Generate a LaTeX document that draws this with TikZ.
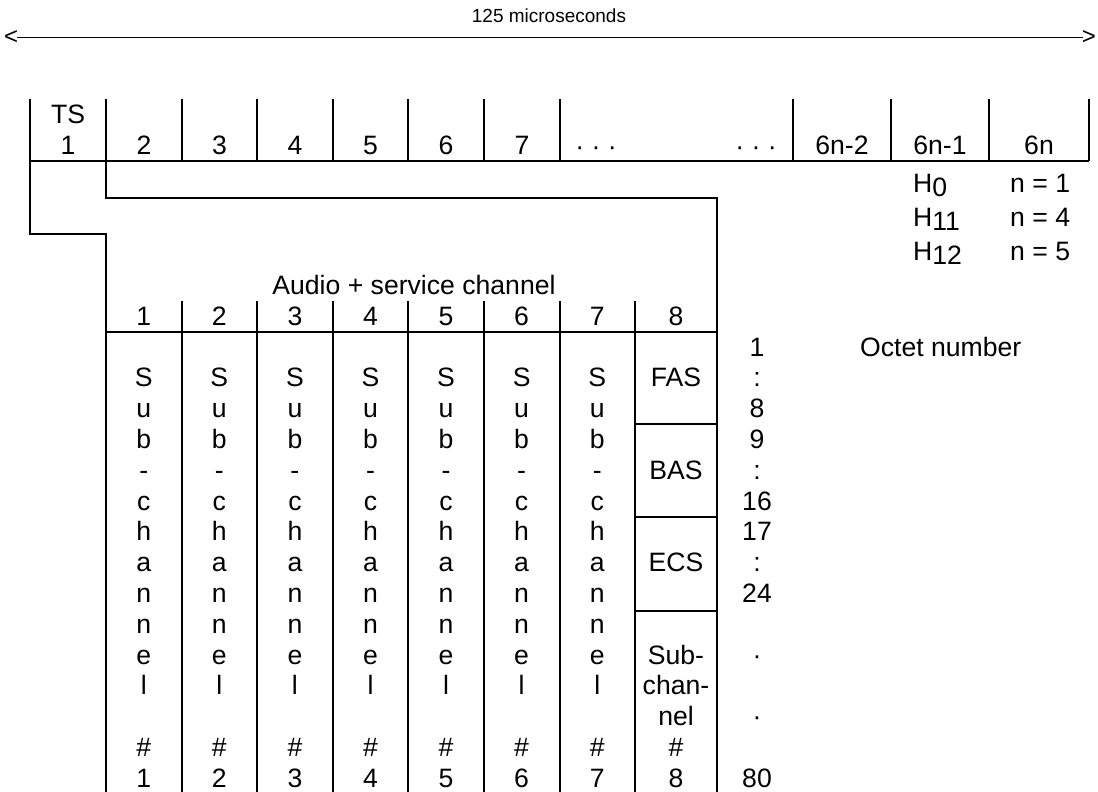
\documentclass[tikz,border=0pt]{standalone}
\usepackage{fontspec}
\setmainfont{Liberation Sans}
\begin{document}
\begin{tikzpicture}[x=1pt,y=-1pt,
  rule/.style={line width=1.8pt},
  thinrule/.style={line width=1pt},
  txt/.style={inner sep=0pt,anchor=base,font=\fontsize{26.6}{30}\selectfont},
  small/.style={inner sep=0pt,font=\fontsize{19}{22}\selectfont},
  tip/.style={inner sep=0pt,font=\fontsize{24}{26}\selectfont}]
\useasboundingbox (0,0) rectangle (1098,792);

% title and arrow
\node[small] (title) at (549,16) {125 microseconds};
\node[tip,anchor=west] (lt) at (4,38) {<};
\node[tip,anchor=east] (gt) at (1096,38) {>};
\draw[thinrule] ([xshift=-1.5pt]lt.east) -- ([xshift=1.5pt]gt.west);

% frame lines
\draw[rule] (30,99) -- (30,234) -- (106,234) -- (106,792);
\draw[rule] (106,99) -- (106,197.7) -- (717,197.7) -- (717,792);
\draw[rule] (30,161) -- (1089,161);
\foreach \x in {182,257,333,408,484,560,793,891,989,1089}
  \draw[rule] (\x,99) -- (\x,161);

% sub-table lines
\draw[rule] (106,332) -- (717,332);
\foreach \x in {182,257,333,408,484,560,635}
  \draw[rule] (\x,301) -- (\x,792);
\foreach \y in {424,517,611}
  \draw[rule] (635,\y) -- (717,\y);

% top row labels
\node[txt] (ts) at (68,123) {TS};
\node[txt] (t1) at (68,154) {1};
\foreach \x [count=\i from 2] in {144,219.5,295,370.5,446,522}
  \node[txt] (t\i) at (\x,154) {\i};
\node[txt] (dots1) at (596,155) {· · ·};
\node[txt] (dots2) at (756,155) {· · ·};
\node[txt] (t6n2) at (842,154) {6n-2};
\node[txt] (t6n1) at (940,154) {6n-1};
\node[txt] (t6n) at (1039,154) {6n};

% H rates
\node[txt,anchor=base west] (h0) at (913,192) {H\raisebox{-4.5pt}{0}};
\node[txt,anchor=base west] (h11) at (913,226) {H\raisebox{-4.5pt}{11}};
\node[txt,anchor=base west] (h12) at (913,260) {H\raisebox{-4.5pt}{12}};
\node[txt,anchor=base west] (n1) at (1010,192) {n = 1};
\node[txt,anchor=base west] (n4) at (1010,226) {n = 4};
\node[txt,anchor=base west] (n5) at (1010,260) {n = 5};

% sub-table header
\node[txt] (audio) at (414,294) {Audio + service channel};
\foreach \c in {1,...,7}
  \node[txt] (hd\c) at ({106+75.57*(\c-0.5)},325) {\c};
\node[txt] (hd8) at (676,325) {8};

% sub-channel columns
\foreach \c in {1,...,7} {
  \foreach \ch [count=\k] in {S,u,b,-,c,h,a,n,n,e,l}
    \node[txt] (s\c-\k) at ({106+75.57*(\c-0.5)},{356+30.8*\k}) {\ch};
  \node[txt] (sh\c) at ({106+75.57*(\c-0.5)},{356+30.8*13}) {\#};
  \node[txt] (sn\c) at ({106+75.57*(\c-0.5)},{356+30.8*14}) {\c};
}

% column 8
\node[txt] (fas) at (676,{356+30.8*1}) {FAS};
\node[txt] (bas) at (676,{356+30.8*4}) {BAS};
\node[txt] (ecs) at (676,{356+30.8*7}) {ECS};
\node[txt] (sub1) at (676,{356+30.8*10}) {Sub-};
\node[txt] (sub2) at (676,{356+30.8*11}) {chan-};
\node[txt] (sub3) at (676,{356+30.8*12}) {nel};
\node[txt] (sh8) at (676,{356+30.8*13}) {\#};
\node[txt] (sn8) at (676,{356+30.8*14}) {8};

% octet numbers
\foreach \t [count=\k from 0] in {1,:,8,9,:,16,17,:,24}
  \node[txt] (o\k) at (757,{356+30.8*\k}) {\t};
\node[txt] (o10) at (757,{356+30.8*10}) {·};
\node[txt] (o12) at (757,{356+30.8*12}) {·};
\node[txt] (o14) at (757,{356+30.8*14}) {80};
\node[txt,anchor=base west] (octet) at (860,356) {Octet number};
\end{tikzpicture}
\end{document}
